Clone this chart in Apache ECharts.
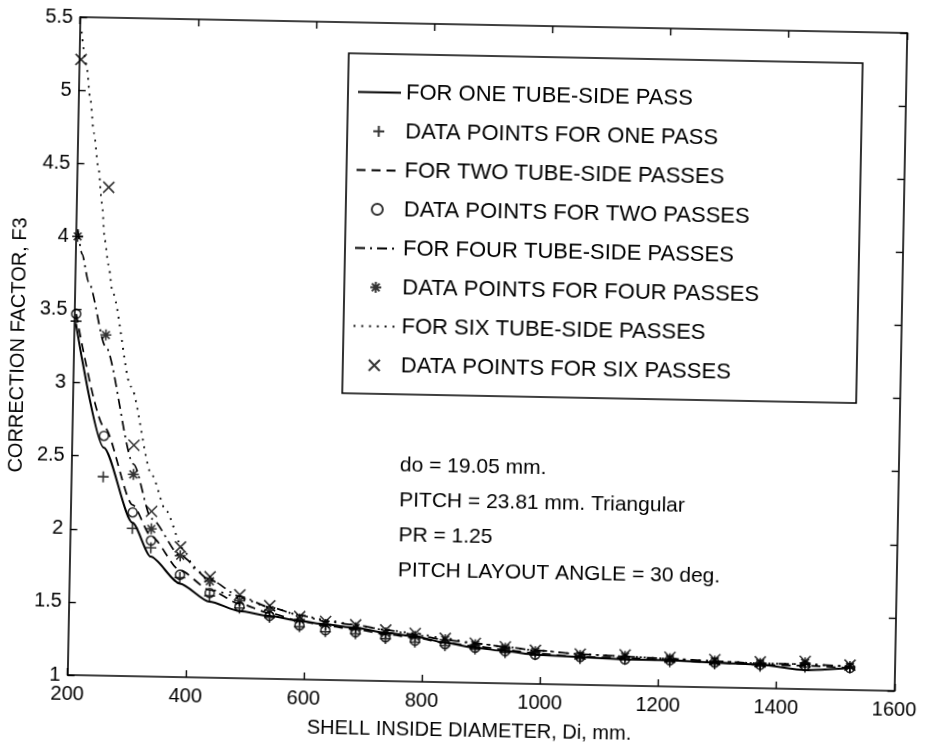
<!DOCTYPE html>
<html>
<head>
<meta charset="utf-8">
<script src="https://cdn.jsdelivr.net/npm/echarts@6/dist/echarts.min.js"></script>
<style>
  html, body { margin: 0; padding: 0; background: #fff; overflow: hidden; }
  /* the scanned figure sits slightly skewed, so the whole chart is turned to match */
  #chart { width: 926px; height: 746px; transform: rotate(1.1deg); transform-origin: 488.75px 355.25px; }
</style>
</head>
<body>
<div id="chart"></div>
<script>
const diameters = [203, 254, 305, 337, 387, 438, 489, 540, 591, 635, 686, 737, 787, 838, 889, 940, 991, 1067, 1143, 1219, 1295, 1372, 1448, 1524];

// data points
const onePassPoints = [3.42, 2.36, 2.01, 1.88, 1.68, 1.56, 1.48, 1.42, 1.36, 1.33, 1.32, 1.29, 1.27, 1.25, 1.23, 1.21, 1.20, 1.18, 1.18, 1.17, 1.16, 1.15, 1.15, 1.15];
const twoPassPoints = [3.47, 2.64, 2.12, 1.93, 1.70, 1.58, 1.49, 1.43, 1.37, 1.34, 1.33, 1.30, 1.28, 1.26, 1.24, 1.22, 1.20, 1.19, 1.18, 1.18, 1.17, 1.16, 1.16, 1.15];
const fourPassPoints = [4.00, 3.33, 2.38, 2.01, 1.83, 1.66, 1.53, 1.47, 1.41, 1.38, 1.36, 1.33, 1.31, 1.29, 1.26, 1.24, 1.22, 1.20, 1.20, 1.19, 1.18, 1.17, 1.18, 1.16];
const sixPassPoints = [5.21, 4.34, 2.58, 2.13, 1.89, 1.69, 1.57, 1.50, 1.43, 1.40, 1.38, 1.35, 1.33, 1.30, 1.27, 1.25, 1.23, 1.21, 1.21, 1.20, 1.19, 1.18, 1.19, 1.17];

// fitted curves
const onePassFit = [3.40, 2.56, 2.05, 1.82, 1.64, 1.52, 1.46, 1.43, 1.40, 1.38, 1.36, 1.33, 1.31, 1.27, 1.24, 1.22, 1.20, 1.19, 1.18, 1.18, 1.17, 1.16, 1.13, 1.15];
const twoPassFit = [3.47, 2.70, 2.17, 1.96, 1.73, 1.60, 1.51, 1.45, 1.40, 1.37, 1.35, 1.32, 1.30, 1.27, 1.25, 1.23, 1.21, 1.19, 1.19, 1.18, 1.17, 1.16, 1.16, 1.15];
const fourPassFitX = [203, 211, 223, 254, 305, 337, 387, 438, 489, 540, 591, 635, 686, 737, 787, 838, 889, 940, 991, 1067, 1143, 1219, 1295, 1372, 1448, 1524];
const fourPassFit = [4.05, 3.88, 3.69, 3.25, 2.45, 2.08, 1.83, 1.67, 1.56, 1.49, 1.44, 1.40, 1.38, 1.35, 1.32, 1.29, 1.27, 1.25, 1.23, 1.21, 1.20, 1.19, 1.18, 1.17, 1.17, 1.16];
const sixPassFitX = [203, 212, 220, 227, 236, 243, 249, 256, 264, 298, 336, 361, 391, 413, 451, 489, 540, 591, 635, 686, 737, 787, 838, 889, 940, 991, 1067, 1143, 1219, 1295, 1372, 1448, 1524];
const sixPassFit = [5.40, 5.18, 4.94, 4.71, 4.47, 4.23, 3.98, 3.81, 3.62, 2.98, 2.38, 2.14, 1.88, 1.74, 1.59, 1.55, 1.49, 1.44, 1.41, 1.38, 1.35, 1.33, 1.30, 1.27, 1.25, 1.23, 1.21, 1.20, 1.19, 1.18, 1.17, 1.17, 1.16];

const legendNames = [
  "FOR ONE TUBE-SIDE PASS",
  "DATA POINTS FOR ONE PASS",
  "FOR TWO TUBE-SIDE PASSES",
  "DATA POINTS FOR TWO PASSES",
  "FOR FOUR TUBE-SIDE PASSES",
  "DATA POINTS FOR FOUR PASSES",
  "FOR SIX TUBE-SIDE PASSES",
  "DATA POINTS FOR SIX PASSES",
];
const notes = ["do = 19.05 mm.", "PITCH = 23.81 mm. Triangular", "PR = 1.25", "PITCH LAYOUT ANGLE = 30 deg."];

const FONT = '"Liberation Sans", Arial, Helvetica, sans-serif';
const INK = "#000";

const pairs = (xs, ys) => xs.map((x, i) => [x, ys[i]]);

const plusPath = "path://M5,0L5,10M0,5L10,5";
const crossPath = "path://M0,0L10,10M10,0L0,10";
const starPath = "path://M5,0L5,10M0,5L10,5M1.5,1.5L8.5,8.5M8.5,1.5L1.5,8.5";

function fitLine(name, xs, ys, dash, width) {
  return {
    name, type: "line", data: pairs(xs, ys),
    symbol: "none", showSymbol: false, smooth: 0.25, smoothMonotone: "x",
    lineStyle: { color: INK, width: width || 1.7, type: dash },
    itemStyle: { color: INK },
    z: 2, silent: true,
  };
}

function dots(name, ys, symbol, size) {
  return {
    name, type: "scatter", data: pairs(diameters, ys),
    symbol, symbolSize: size,
    itemStyle: { color: "transparent", borderColor: INK, borderWidth: 1.6 },
    z: 3, silent: true,
  };
}

function frameAxis(extra) {
  return Object.assign({
    type: "value",
    axisLine: { onZero: false, lineStyle: { color: INK, width: 1.6 } },
    axisTick: { inside: true, length: 7, lineStyle: { color: INK, width: 1.4 } },
    splitLine: { show: false },
    axisLabel: { show: false },
  }, extra);
}

const tickLabel = { show: true, color: INK, fontSize: 20, fontFamily: FONT, formatter: (v) => String(v) };

const chart = echarts.init(document.getElementById("chart"), null, { renderer: "canvas" });

chart.setOption({
  animation: false,
  backgroundColor: "#fff",
  grid: { left: 72, top: 25, width: 833, height: 660 },
  xAxis: [
    frameAxis({
      min: 200, max: 1600, interval: 200, position: "bottom",
      axisLabel: Object.assign({ margin: 9 }, tickLabel),
      name: "SHELL INSIDE DIAMETER, Di, mm.", nameLocation: "middle", nameGap: 38,
      nameTextStyle: { color: INK, fontSize: 20, fontFamily: FONT, padding: [0, 22, 0, 0] },
    }),
    frameAxis({ min: 200, max: 1600, interval: 200, position: "top" }),
  ],
  yAxis: [
    frameAxis({
      min: 1, max: 5.5, interval: 0.5, position: "left",
      axisLabel: Object.assign({ margin: 7 }, tickLabel),
      name: "CORRECTION FACTOR, F3", nameLocation: "middle", nameGap: 44, nameRotate: 90,
      nameTextStyle: { color: INK, fontSize: 20, fontFamily: FONT },
    }),
    frameAxis({ min: 1, max: 5.5, interval: 0.5, position: "right" }),
  ],
  legend: {
    orient: "vertical", left: 352, top: 83.5, padding: 0,
    itemWidth: 43, itemHeight: 11, itemGap: 17, selectedMode: false,
    // fitted curves show only their line in the key, no marker
    data: legendNames.map((name, i) => (i % 2 === 0 ? { name, itemStyle: { opacity: 0 } } : name)),
    textStyle: { color: INK, fontSize: 22, lineHeight: 21, fontFamily: FONT },
  },
  graphic: [
    { type: "rect", shape: { x: 343, y: 56, width: 514, height: 340 }, style: { fill: "none", stroke: INK, lineWidth: 1.6 }, z: 10, silent: true },
    ...notes.map((text, i) => ({
      type: "text", x: 402, y: 467 + i * 35, z: 10, silent: true,
      style: { text, fill: INK, font: `21px ${FONT}`, verticalAlign: "middle" },
    })),
  ],
  series: [
    fitLine(legendNames[0], diameters, onePassFit, "solid", 2),
    dots(legendNames[1], onePassPoints, plusPath, 11),
    fitLine(legendNames[2], diameters, twoPassFit, [9, 6]),
    dots(legendNames[3], twoPassPoints, "circle", 9),
    fitLine(legendNames[4], fourPassFitX, fourPassFit, [10, 5, 2, 5]),
    dots(legendNames[5], fourPassPoints, starPath, 11),
    fitLine(legendNames[6], sixPassFitX, sixPassFit, [1.8, 6], 1.8),
    dots(legendNames[7], sixPassPoints, crossPath, 11),
  ],
});
</script>
</body>
</html>
